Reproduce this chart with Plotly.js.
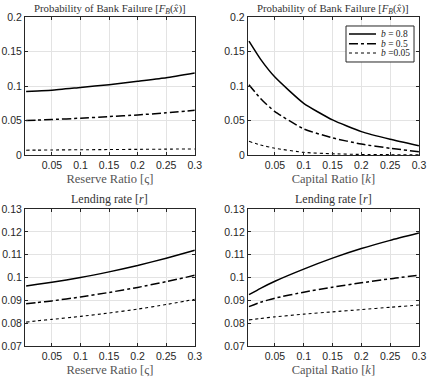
<!DOCTYPE html>
<html><head><meta charset="utf-8">
<script src="https://cdn.plot.ly/plotly-3.0.1.min.js"></script>
<style>html,body{margin:0;padding:0;background:#fff}#c{width:431px;height:385px}</style>
</head><body><div id="c"></div>
<script>
const ratio = [0.005, 0.025, 0.05, 0.1, 0.15, 0.2, 0.25, 0.3];
const legendNames = ['<i>b</i> = 0.8', '<i>b</i> = 0.5', '<i>b</i> =0.05'];
// Probability of bank failure vs reserve ratio
const pfReserve08 = [0.092, 0.093, 0.094, 0.098, 0.102, 0.107, 0.112, 0.119];
const pfReserve05 = [0.050, 0.0507, 0.0515, 0.0535, 0.0558, 0.0582, 0.0612, 0.065];
const pfReserve005 = [0.0072, 0.0073, 0.0075, 0.0078, 0.0081, 0.0084, 0.0087, 0.009];
// Probability of bank failure vs capital ratio
const pfCapital08 = [0.165, 0.139, 0.113, 0.075, 0.051, 0.034, 0.023, 0.0136];
const pfCapital05 = [0.102, 0.082, 0.063, 0.038, 0.025, 0.016, 0.010, 0.005];
const pfCapital005 = [0.020, 0.0147, 0.010, 0.004, 0.002, 0.001, 0.0007, 0.0005];
// Lending rate vs reserve ratio
const lrReserve08 = [0.0963, 0.0971, 0.098, 0.1, 0.1025, 0.1053, 0.1085, 0.112];
const lrReserve05 = [0.0885, 0.0891, 0.0898, 0.0915, 0.0935, 0.0957, 0.0982, 0.101];
const lrReserve005 = [0.0805, 0.0811, 0.0817, 0.083, 0.0845, 0.0862, 0.0882, 0.0905];
// Lending rate vs capital ratio
const lrCapital08 = [0.0925, 0.0953, 0.0984, 0.1037, 0.1085, 0.1127, 0.1163, 0.1195];
const lrCapital05 = [0.0873, 0.0892, 0.0910, 0.0936, 0.0958, 0.0977, 0.0995, 0.101];
const lrCapital005 = [0.0815, 0.0821, 0.0828, 0.084, 0.085, 0.086, 0.087, 0.088];

const dashes = ['solid', 'dashdot', 'dot'];
const widths = [1.5, 1.5, 1.1];
const panels = [
  {ax: '', series: [pfReserve08, pfReserve05, pfReserve005]},
  {ax: '2', series: [pfCapital08, pfCapital05, pfCapital005]},
  {ax: '3', series: [lrReserve08, lrReserve05, lrReserve005]},
  {ax: '4', series: [lrCapital08, lrCapital05, lrCapital005]}
];
const traces = [];
panels.forEach((p, pi) => {
  p.series.forEach((s, si) => {
    traces.push({
      x: ratio, y: s, type: 'scatter', mode: 'lines',
      xaxis: 'x' + p.ax, yaxis: 'y' + p.ax,
      name: legendNames[si], showlegend: false,
      line: {color: '#000', width: widths[si], dash: dashes[si], shape: 'spline', smoothing: 0.5}
    });
  });
});
const tickFont = {family: 'Liberation Sans, Arial, sans-serif', size: 10.5, color: '#262626'};
const serif = 'Liberation Serif, DejaVu Serif, serif';
function xax(dom, anchor, title) {
  return {domain: dom, anchor: anchor, range: [0.003, 0.3], tickvals: [0.05, 0.1, 0.15, 0.2, 0.25, 0.3],
    ticktext: ['0.05', '0.1', '0.15', '0.2', '0.25', '0.3'],
    showgrid: true, gridcolor: '#e3e3e3', gridwidth: 1, zeroline: false,
    showline: true, linecolor: '#262626', linewidth: 1, mirror: 'ticks',
    ticks: 'inside', ticklen: 3, tickcolor: '#262626', tickfont: tickFont,
    title: {text: title, font: {family: serif, size: 12.5, color: '#555'}, standoff: 4}};
}
function yax(dom, anchor, range, vals, texts) {
  return {domain: dom, anchor: anchor, range: range, tickvals: vals, ticktext: texts,
    showgrid: true, gridcolor: '#e3e3e3', gridwidth: 1, zeroline: false,
    showline: true, linecolor: '#262626', linewidth: 1, mirror: 'ticks',
    ticks: 'inside', ticklen: 3, tickcolor: '#262626', tickfont: tickFont};
}
const pfVals = [0, 0.05, 0.1, 0.15, 0.2], pfText = ['0', '0.05', '0.1', '0.15', '0.2'];
const lrVals = [0.07, 0.08, 0.09, 0.1, 0.11, 0.12, 0.13], lrText = ['0.07', '0.08', '0.09', '0.1', '0.11', '0.12', '0.13'];
const xL = [0.058, 0.452], xR = [0.575, 0.972], yT = [0.597, 0.956], yB = [0.101, 0.457];
const pfTitle = 'Probability of Bank Failure [<i>F</i><sub><i>B</i></sub>(<i>x̂</i>)]';
const lrTitle = 'Lending rate [<i>r</i>]';
const pfFont = {family: serif, size: 10.8, color: '#333'};
const lrFont = {family: serif, size: 12, color: '#333'};

// legend box drawn in paper coordinates inside the top-right panel
const legBox = {x0: 0.8028, x1: 0.9606, y0: 0.839, y1: 0.9325};
const legRowsY = [0.9117, 0.8865, 0.8623];
const legLineX = [0.8097, 0.8724];
const shapes = [{type: 'rect', xref: 'paper', yref: 'paper', x0: legBox.x0, x1: legBox.x1, y0: legBox.y0, y1: legBox.y1,
  line: {color: '#262626', width: 1}, fillcolor: '#fff', layer: 'above'}];
const annotations = [
  {text: pfTitle, x: (xL[0] + xL[1]) / 2, y: 0.977, xref: 'paper', yref: 'paper', xanchor: 'center', yanchor: 'middle', showarrow: false, font: pfFont},
  {text: pfTitle, x: (xR[0] + xR[1]) / 2, y: 0.977, xref: 'paper', yref: 'paper', xanchor: 'center', yanchor: 'middle', showarrow: false, font: pfFont},
  {text: lrTitle, x: (xL[0] + xL[1]) / 2, y: 0.483, xref: 'paper', yref: 'paper', xanchor: 'center', yanchor: 'middle', showarrow: false, font: lrFont},
  {text: lrTitle, x: (xR[0] + xR[1]) / 2, y: 0.483, xref: 'paper', yref: 'paper', xanchor: 'center', yanchor: 'middle', showarrow: false, font: lrFont}
];
legendNames.forEach((nm, i) => {
  shapes.push({type: 'line', xref: 'paper', yref: 'paper', x0: legLineX[0], x1: legLineX[1], y0: legRowsY[i], y1: legRowsY[i],
    line: {color: '#000', width: widths[i], dash: dashes[i]}, layer: 'above'});
  annotations.push({text: nm, xref: 'paper', yref: 'paper', x: 0.8794, y: legRowsY[i], xanchor: 'left', yanchor: 'middle',
    showarrow: false, font: {family: serif, size: 9.5, color: '#222'}});
});

const layout = {
  width: 431, height: 385, margin: {l: 0, r: 0, t: 0, b: 0},
  paper_bgcolor: '#fff', plot_bgcolor: '#fff',
  xaxis: xax(xL, 'y', 'Reserve Ratio [ς]'),
  yaxis: yax(yT, 'x', [0, 0.2], pfVals, pfText),
  xaxis2: xax(xR, 'y2', 'Capital Ratio [<i>k</i>]'),
  yaxis2: yax(yT, 'x2', [0, 0.2], pfVals, pfText),
  xaxis3: xax(xL, 'y3', 'Reserve Ratio [ς]'),
  yaxis3: yax(yB, 'x3', [0.07, 0.13], lrVals, lrText),
  xaxis4: xax(xR, 'y4', 'Capital Ratio [<i>k</i>]'),
  yaxis4: yax(yB, 'x4', [0.07, 0.13], lrVals, lrText),
  showlegend: false,
  shapes: shapes,
  annotations: annotations
};
Plotly.newPlot('c', traces, layout, {displayModeBar: false, staticPlot: true});
</script></body></html>
